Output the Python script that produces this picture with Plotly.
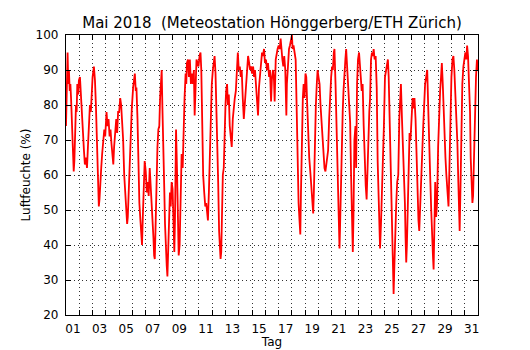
import plotly.graph_objects as go

# time in days since 2018-05-01 00:00, relative humidity in %
day_pos = [
    0.00, 0.03, 0.08, 0.12, 0.17, 0.22, 0.28, 0.33, 0.38, 0.45, 0.52, 0.58, 0.63, 0.68, 0.75, 0.80, 0.85, 0.92, 0.97,
    1.05, 1.12, 1.20, 1.28, 1.35, 1.42, 1.50, 1.58, 1.65, 1.72, 1.80, 1.87, 1.93,
    2.00, 2.10, 2.18, 2.25, 2.32, 2.40, 2.47, 2.52, 2.58, 2.65, 2.72, 2.80, 2.88, 2.95,
    3.05, 3.12, 3.20, 3.28, 3.35, 3.42, 3.50, 3.56, 3.62, 3.70, 3.78, 3.85, 3.92,
    4.00, 4.08, 4.15, 4.22, 4.30, 4.38, 4.45, 4.52, 4.60, 4.65, 4.72, 4.80, 4.88, 4.95,
    5.05, 5.12, 5.18, 5.25, 5.30, 5.38, 5.45, 5.52, 5.60, 5.66, 5.72, 5.78, 5.85, 5.92,
    6.00, 6.08, 6.15, 6.22, 6.30, 6.38, 6.45, 6.52, 6.58, 6.63, 6.68, 6.75, 6.82, 6.88, 6.95,
    7.02, 7.08, 7.15, 7.20, 7.25, 7.32, 7.40, 7.45, 7.50, 7.58, 7.63, 7.68, 7.75, 7.82, 7.88, 7.95,
    8.02, 8.08, 8.15, 8.20, 8.28, 8.35, 8.42, 8.48, 8.55, 8.62, 8.70, 8.78, 8.85, 8.92,
    9.00, 9.05, 9.10, 9.18, 9.25, 9.32, 9.40, 9.47, 9.55, 9.62, 9.68, 9.75, 9.82, 9.90, 9.97,
    10.05, 10.12, 10.18, 10.25, 10.32, 10.40, 10.48, 10.55, 10.62, 10.68, 10.75, 10.82, 10.90, 10.97,
    11.05, 11.12, 11.18, 11.25, 11.32, 11.38, 11.45, 11.52, 11.58, 11.63, 11.68, 11.75, 11.80, 11.87, 11.93,
    12.00, 12.05, 12.12, 12.18, 12.25, 12.32, 12.40, 12.47, 12.55, 12.62, 12.70, 12.78, 12.85, 12.93,
    13.00, 13.08, 13.15, 13.22, 13.30, 13.38, 13.45, 13.55, 13.62, 13.70, 13.78, 13.85, 13.92,
    14.00, 14.08, 14.15, 14.22, 14.30, 14.38, 14.45, 14.52, 14.60, 14.68, 14.75, 14.82, 14.90, 14.97,
    15.05, 15.12, 15.20, 15.28, 15.35, 15.43, 15.50, 15.58, 15.65, 15.70, 15.78, 15.85, 15.92,
    16.00, 16.08, 16.15, 16.20, 16.28, 16.35, 16.42, 16.50, 16.55, 16.58, 16.62, 16.70, 16.78, 16.85, 16.92,
    17.00, 17.05, 17.12, 17.20, 17.28, 17.35, 17.42, 17.50, 17.57, 17.63, 17.68, 17.75, 17.82, 17.88, 17.95,
    18.02, 18.08, 18.15, 18.22, 18.30, 18.40, 18.48, 18.55, 18.60, 18.65, 18.72, 18.80, 18.87, 18.93,
    19.00, 19.08, 19.15, 19.22, 19.30, 19.38, 19.45, 19.52, 19.58, 19.65, 19.72, 19.80, 19.88, 19.95,
    20.02, 20.08, 20.15, 20.20, 20.28, 20.35, 20.42, 20.48, 20.55, 20.58, 20.62, 20.68, 20.75, 20.82, 20.88, 20.95,
    21.02, 21.08, 21.15, 21.22, 21.30, 21.38, 21.45, 21.52, 21.58, 21.63, 21.70, 21.78, 21.83, 21.90, 21.97,
    22.05, 22.10, 22.18, 22.25, 22.32, 22.40, 22.48, 22.55, 22.62, 22.68, 22.75, 22.82, 22.88, 22.95,
    23.02, 23.08, 23.15, 23.22, 23.30, 23.38, 23.45, 23.52, 23.58, 23.63, 23.70, 23.78, 23.85, 23.92,
    24.00, 24.08, 24.15, 24.22, 24.28, 24.35, 24.42, 24.50, 24.55, 24.62, 24.65, 24.70, 24.78, 24.85, 24.92,
    25.00, 25.08, 25.15, 25.20, 25.28, 25.35, 25.42, 25.50, 25.55, 25.60, 25.65, 25.72, 25.78, 25.85, 25.92,
    26.00, 26.08, 26.15, 26.22, 26.30, 26.38, 26.45, 26.52, 26.58, 26.65, 26.72, 26.80, 26.88, 26.95,
    27.02, 27.10, 27.18, 27.25, 27.32, 27.40, 27.48, 27.55, 27.62, 27.66, 27.72, 27.78, 27.85, 27.92,
    28.00, 28.08, 28.15, 28.22, 28.28, 28.35, 28.42, 28.48, 28.55, 28.62, 28.70, 28.78, 28.85, 28.92,
    29.00, 29.08, 29.15, 29.22, 29.30, 29.38, 29.45, 29.52, 29.58, 29.62, 29.68, 29.75, 29.82, 29.90, 29.97,
    30.05, 30.12, 30.18, 30.25, 30.32, 30.40, 30.45, 30.52, 30.58, 30.63, 30.70, 30.78, 30.85, 30.92, 30.97, 31.00,
]
humidity = [
    74, 84, 93, 95, 86, 90, 84, 86, 82, 72, 63, 61, 64, 72, 80, 78, 86, 83, 87,
    88, 84, 78, 72, 67, 63, 65, 62, 68, 75, 80, 78, 84,
    88, 91, 87, 80, 70, 58, 51, 53, 56, 62, 66, 70, 73, 71,
    78, 74, 76, 71, 73, 69, 66, 63, 68, 73, 76, 72, 78,
    78, 82, 80, 75, 70, 60, 55, 49, 46, 48, 55, 65, 75, 79,
    85, 88, 89, 84, 85, 76, 62, 52, 47, 41, 40, 48, 58, 64,
    61, 55, 58, 54, 62, 57, 50, 46, 42, 37, 36, 47, 62, 68, 73,
    74, 82, 88, 90, 80, 62, 55, 46, 38, 34, 31, 36, 48, 55, 51, 58,
    56, 45, 38, 47, 73, 62, 50, 37, 40, 52, 66, 62, 74, 82,
    89, 86, 92, 93, 88, 93, 86, 89, 86, 90, 77, 86, 93, 92, 91,
    94, 95, 90, 70, 60, 55, 51, 52, 48, 47, 55, 65, 78, 86,
    90, 93, 94, 89, 74, 62, 58, 44, 40, 36, 38, 55, 60, 62, 74,
    80, 84, 86, 80, 83, 74, 70, 68, 76, 80, 82, 84, 88, 95,
    90, 91, 88, 90, 82, 76, 80, 85, 90, 94, 92, 90, 91,
    89, 91, 88, 90, 86, 80, 77, 85, 90, 92, 95, 94, 96, 92,
    93, 90, 92, 88, 90, 81, 88, 90, 87, 81, 93, 95, 96,
    97, 96, 99, 95, 93, 91, 94, 90, 84, 77, 86, 92, 96, 97, 99,
    100, 96, 97, 95, 93, 80, 62, 52, 47, 43, 55, 72, 82, 86, 82,
    89, 88, 80, 72, 65, 60, 54, 52, 49, 55, 70, 80, 86, 90,
    88, 86, 80, 75, 71, 66, 62, 61, 63, 64, 67, 76, 84, 88,
    91, 90, 95, 96, 86, 74, 62, 58, 42, 39, 45, 58, 68, 78, 84, 90,
    93, 96, 91, 86, 84, 75, 60, 46, 38, 48, 70, 74, 62, 86, 93,
    95, 93, 88, 84, 86, 74, 62, 57, 53, 62, 72, 78, 82, 93,
    95, 94, 96, 93, 94, 85, 64, 52, 45, 39, 46, 56, 62, 74,
    88, 90, 92, 93, 88, 75, 62, 48, 40, 30, 26, 33, 48, 52, 58,
    60, 76, 84, 86, 76, 68, 64, 52, 42, 35, 40, 55, 66, 72, 70,
    78, 82, 79, 82, 76, 62, 52, 47, 44, 52, 62, 70, 74, 80,
    86, 88, 90, 80, 67, 60, 50, 45, 36, 33, 46, 58, 48, 52,
    68, 78, 84, 88, 92, 86, 76, 70, 65, 60, 55, 51, 62, 79,
    88, 93, 94, 90, 84, 76, 69, 58, 48, 44, 56, 74, 86, 91, 94,
    95, 93, 97, 94, 88, 78, 65, 55, 52, 54, 68, 80, 88, 93, 90, 91,
]
assert len(day_pos) == len(humidity), (len(day_pos), len(humidity))

day_ticks = list(range(0, 31))
day_labels = [f"{d + 1:02d}" if d % 2 == 0 else "" for d in day_ticks]
y_ticks = [20, 30, 40, 50, 60, 70, 80, 90, 100]

title_text = "Mai 2018  (Meteostation Hönggerberg/ETH Zürich)"
x_title = "Tag"
y_title = "Luftfeuchte (%)"

FONT = "DejaVu Sans"
# the page body adds an 8px offset; the figure is sized to fill the rest
W, H = 522, 342

fig = go.Figure()
fig.add_trace(go.Scatter(
    x=day_pos, y=humidity, mode="lines",
    line=dict(color="#ff0000", width=1.8),
    showlegend=False, hoverinfo="skip",
))

axis_common = dict(
    showline=True, linecolor="black", linewidth=1.2, mirror="allticks",
    ticks="inside", ticklen=5, tickcolor="black", tickwidth=1,
    showgrid=True, gridcolor="#333333", gridwidth=1, griddash="1px,3px",
    zeroline=False, automargin=False,
    tickfont=dict(family=FONT, size=12, color="black"),
)

fig.update_layout(
    width=W, height=H,
    margin=dict(l=58, r=52, t=27, b=35, autoexpand=False),
    paper_bgcolor="white", plot_bgcolor="white",
    font=dict(family=FONT, size=12, color="black"),
    title=dict(text=title_text, x=0.5, xref="paper", xanchor="center",
               y=1 - 15 / H, yref="container", yanchor="middle",
               automargin=False,
               font=dict(family=FONT, size=15, color="black")),
    xaxis=dict(
        range=[0, 31], tickmode="array", tickvals=day_ticks, ticktext=day_labels,
        ticklabelshift=7, ticklabelstandoff=2,
        title=dict(text=x_title, standoff=0, font=dict(family=FONT, size=12)),
        **axis_common,
    ),
    yaxis=dict(
        range=[20, 100], tickmode="array", tickvals=y_ticks,
        ticklabelstandoff=4,
        title=dict(text=y_title, standoff=2, font=dict(family=FONT, size=12)),
        **axis_common,
    ),
)

fig.write_html("out.html")
